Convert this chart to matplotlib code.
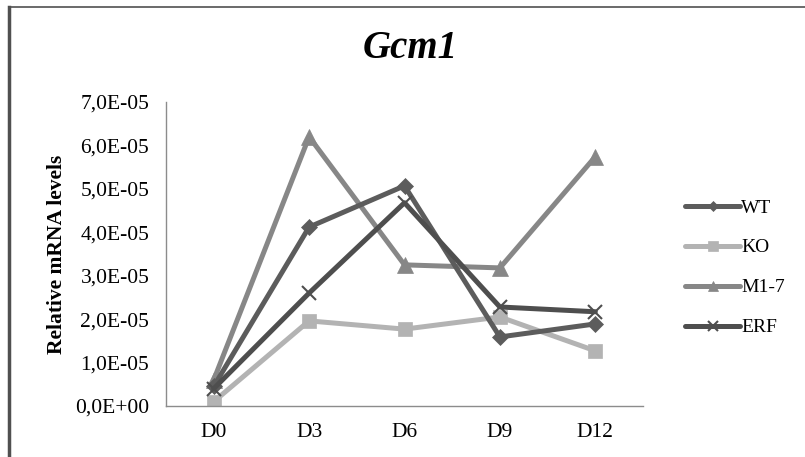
import matplotlib.pyplot as plt
from matplotlib.patches import Rectangle
from matplotlib.ticker import FuncFormatter

days = ['D0', 'D3', 'D6', 'D9', 'D12']
wt = [4.5e-6, 4.12e-5, 5.07e-5, 1.59e-5, 1.89e-5]
ko = [1.0e-6, 1.96e-5, 1.77e-5, 2.05e-5, 1.27e-5]
m17 = [6.0e-6, 6.2e-5, 3.25e-5, 3.18e-5, 5.74e-5]
erf = [4.0e-6, 2.6e-5, 4.68e-5, 2.28e-5, 2.17e-5]
y_ticks = [i * 1e-5 for i in range(8)]

W, H = 805, 457
fig = plt.figure(figsize=(W / 100, H / 100), dpi=100)
plt.rcParams['font.family'] = ['Liberation Serif', 'DejaVu Serif']

# chart frame (right/bottom edges fall outside the image)
fig.patches.append(Rectangle((9 / W, -0.1), 1.2, (H - 7) / H + 0.1, transform=fig.transFigure,
                             fill=False, edgecolor='#505050', linewidth=1.2))
fig.add_artist(plt.Line2D([9 / W, 9 / W], [0, 1 - 7 / H], transform=fig.transFigure,
                          color='#505050', linewidth=2.5))

ax = fig.add_axes([166 / W, 1 - 406 / H, 477 / W, 304 / H])
x = range(len(days))

series = [
    ('WT', wt, '#5c5c5c', 'D', 8),
    ('KO', ko, '#b3b3b3', 's', 10),
    ('M1-7', m17, '#878787', '^', 11),
    ('ERF', erf, '#4e4e4e', 'x', 10),
]
order = {'WT': 3, 'KO': 2, 'M1-7': 1, 'ERF': 4}
for name, vals, col, mk, ms in series:
    ax.plot(x, vals, color=col, linewidth=3.6, marker=mk, markersize=ms,
            markeredgewidth=1.5 if mk == 'x' else 0.5, markeredgecolor=col,
            markerfacecolor=col, label=name, zorder=order[name],
            solid_capstyle='round')

ax.set_xlim(-0.5, 4.5)
ax.set_ylim(0, 7e-5)
ax.set_yticks(y_ticks)
ax.yaxis.set_major_formatter(FuncFormatter(lambda v, p: ('%.1E' % v).replace('.', ',')))
ax.set_xticks(list(x))
ax.set_xticklabels(days)
ax.tick_params(length=0, labelsize=15.5, colors='black')
ax.tick_params(axis='x', pad=12)
ax.tick_params(axis='y', pad=12)
for s in ['top', 'right']:
    ax.spines[s].set_visible(False)
for s in ['left', 'bottom']:
    ax.spines[s].set_color('#8c8c8c')
    ax.spines[s].set_linewidth(1.0)

ax.set_ylabel('Relative mRNA levels', fontsize=15.5, fontweight='bold', labelpad=6)
fig.text(410 / W, 1 - 49 / H, 'Gcm1', fontsize=28, fontweight='bold', style='italic',
         ha='center', va='center')

leg = ax.legend(loc='center left', bbox_to_anchor=(1.051, 0.455), frameon=False,
                fontsize=14, handlelength=2.85, handletextpad=0.05, labelspacing=1.15,
                markerscale=0.7)

fig.savefig('out.png', dpi=100)
